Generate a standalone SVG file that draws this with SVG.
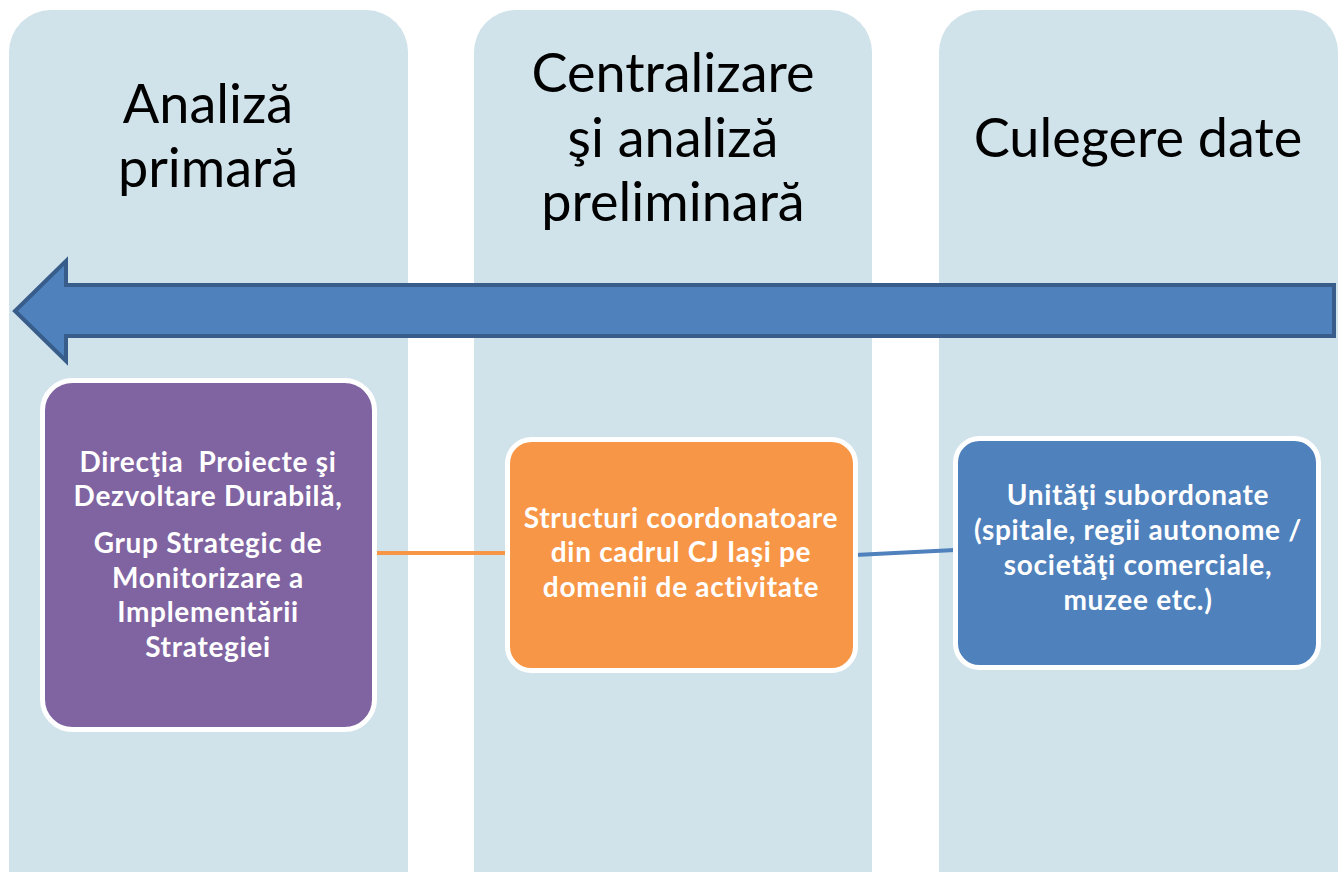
<svg xmlns="http://www.w3.org/2000/svg" width="1340" height="872" viewBox="0 0 1340 872">
<defs>
<style>
.col{fill:#D0E2EA;}
.head{font-family:Lato,"Open Sans","Liberation Sans",sans-serif;font-size:54px;fill:#000;text-anchor:middle;}
.lbl{font-family:Lato,"Open Sans","Liberation Sans",sans-serif;font-size:28px;font-weight:bold;fill:#fff;text-anchor:middle;letter-spacing:0.7px;}
.box{stroke:#fff;stroke-width:5;}
</style>
</defs>
<rect width="1340" height="872" fill="#fff"/>
<g id="col1"><path class="col" d="M9 892 V52 A42 42 0 0 1 51 10 H366 A42 42 0 0 1 408 52 V892 Z"/>
<text class="head"><tspan x="208" y="123">Analiză</tspan><tspan x="208" y="187">primară</tspan></text></g>
<g id="col2"><path class="col" d="M474 892 V52 A42 42 0 0 1 516 10 H830 A42 42 0 0 1 872 52 V892 Z"/>
<text class="head"><tspan x="673" y="92">Centralizare</tspan><tspan x="673" y="157">şi analiză</tspan><tspan x="673" y="221">preliminară</tspan></text></g>
<g id="col3"><path class="col" d="M939 892 V52 A42 42 0 0 1 981 10 H1296 A42 42 0 0 1 1338 52 V892 Z"/>
<text class="head"><tspan x="1138" y="157">Culegere date</tspan></text></g>
<g id="arrow"><path d="M1334 285 H66 V261 L15 311 L66 361 V336 H1334 Z" fill="#4F81BD" stroke="#385D8A" stroke-width="4" stroke-linejoin="miter"/></g>
<g id="connectors">
<line x1="376" y1="553" x2="507" y2="553" stroke="#F79646" stroke-width="4"/>
<line x1="855" y1="555" x2="955" y2="550" stroke="#4F81BD" stroke-width="4"/>
</g>
<g id="node-purple"><rect class="box" x="42.500" y="380.500" width="332" height="349" rx="30" fill="#8064A2"/>
<text class="lbl" xml:space="preserve"><tspan x="208" y="472">Direcţia  Proiecte şi</tspan><tspan x="208" y="506">Dezvoltare Durabilă,</tspan><tspan x="208" y="553">Grup Strategic de</tspan><tspan x="208" y="588">Monitorizare a</tspan><tspan x="208" y="622">Implementării</tspan><tspan x="208" y="657">Strategiei</tspan></text></g>
<g id="node-orange"><rect class="box" x="507.500" y="439.500" width="348" height="231" rx="24" fill="#F79646"/>
<text class="lbl"><tspan x="681" y="528">Structuri coordonatoare</tspan><tspan x="681" y="562">din cadrul CJ Iaşi pe</tspan><tspan x="681" y="597">domenii de activitate</tspan></text></g>
<g id="node-blue"><rect class="box" x="955.500" y="438.500" width="363" height="229" rx="24" fill="#4F81BD"/>
<text class="lbl"><tspan x="1138" y="505">Unităţi subordonate</tspan><tspan x="1138" y="540">(spitale, regii autonome /</tspan><tspan x="1138" y="575">societăţi comerciale,</tspan><tspan x="1138" y="610">muzee etc.)</tspan></text></g>
</svg>
